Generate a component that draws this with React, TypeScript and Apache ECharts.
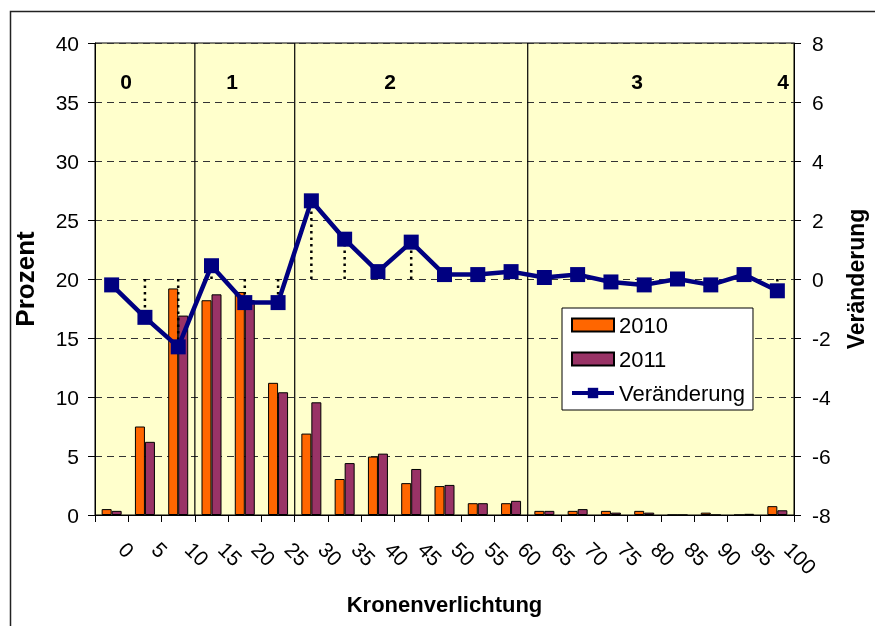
import React, { useEffect, useRef } from "react";
import * as echarts from "echarts";

// Kronenverlichtung classes (percent needle/leaf loss)
const categories = ["0", "5", "10", "15", "20", "25", "30", "35", "40", "45", "50", "55", "60", "65", "70", "75", "80", "85", "90", "95", "100"];
const share2010 = [0.5, 7.5, 19.2, 18.2, 18.9, 11.2, 6.9, 3.05, 4.95, 2.7, 2.45, 1.0, 1.0, 0.35, 0.35, 0.35, 0.35, 0, 0.2, 0, 0.75];
const share2011 = [0.35, 6.2, 16.9, 18.7, 18.2, 10.4, 9.55, 4.4, 5.2, 3.9, 2.55, 1.0, 1.2, 0.35, 0.5, 0.2, 0.2, 0, 0, 0.1, 0.4];
const change = [-0.2, -1.3, -2.3, 0.45, -0.8, -0.8, 2.65, 1.35, 0.25, 1.25, 0.15, 0.15, 0.25, 0.05, 0.15, -0.1, -0.2, 0.0, -0.2, 0.15, -0.4];
// first category index of damage classes 1, 2, 3
const classBreaks = [3, 6, 13];
const classNames = ["0", "1", "2", "3", "4"];
const leftTicks = { min: 0, max: 40, interval: 5 };
const rightTicks = { min: -8, max: 8, interval: 2 };

const FONT = "'Liberation Sans', Arial, sans-serif";

export default function App() {
  const ref = useRef<HTMLDivElement>(null);
  useEffect(() => {
    if (!ref.current) return;
    const chart = echarts.init(ref.current, undefined, { renderer: "svg" });
    const classLabelX = [126, 232, 390, 637, 783];
    const option: any = {
      animation: false,
      textStyle: { fontFamily: FONT, color: "#000" },
      grid: {
        left: 95, right: 77, top: 43, bottom: 111,
        show: true, backgroundColor: "#FFFFCC", borderColor: "#000", borderWidth: 1,
      },
      legend: {
        orient: "vertical",
        left: 562, top: 308,
        padding: [6, 8, 6, 8],
        itemGap: 12,
        itemWidth: 42, itemHeight: 13,
        backgroundColor: "#fff",
        borderColor: "#000", borderWidth: 1,
        textStyle: { fontSize: 22, color: "#000", fontFamily: FONT },
        data: [
          { name: "2010", icon: "rect" },
          { name: "2011", icon: "rect" },
          { name: "Veränderung", lineStyle: { width: 4, color: "#000080" } },
        ],
      },
      xAxis: {
        type: "category",
        data: categories,
        boundaryGap: true,
        axisLine: { lineStyle: { color: "#000", width: 1 } },
        axisTick: { show: true, interval: 0, length: 7, lineStyle: { color: "#000" } },
        axisLabel: {
          interval: 0, rotate: -45, fontSize: 21, color: "#000", fontFamily: FONT,
          margin: 20, padding: [0, 0, 0, 15],
        },
        splitLine: { show: false },
        name: "Kronenverlichtung",
        nameLocation: "middle",
        nameGap: 78,
        nameTextStyle: { fontWeight: "bold", fontSize: 22, color: "#000", fontFamily: FONT },
      },
      yAxis: [
        {
          type: "value", position: "left",
          min: leftTicks.min, max: leftTicks.max, interval: leftTicks.interval,
          axisLine: { show: true, lineStyle: { color: "#000" } },
          axisTick: { show: true, length: 7, lineStyle: { color: "#000" } },
          axisLabel: { fontSize: 21, color: "#000", margin: 16, fontFamily: FONT },
          splitLine: { show: true, lineStyle: { color: "#333", type: [7, 5], width: 1 } },
          name: "Prozent", nameLocation: "middle", nameRotate: 90, nameGap: 57,
          nameTextStyle: { fontWeight: "bold", fontSize: 26, color: "#000", fontFamily: FONT },
        },
        {
          type: "value", position: "right",
          min: rightTicks.min, max: rightTicks.max, interval: rightTicks.interval,
          axisLine: { show: true, lineStyle: { color: "#000" } },
          axisTick: { show: true, length: 7, lineStyle: { color: "#000" } },
          axisLabel: { fontSize: 21, color: "#000", margin: 18, fontFamily: FONT },
          splitLine: { show: false },
          name: "Veränderung", nameLocation: "middle", nameRotate: 90, nameGap: 50,
          nameTextStyle: { fontWeight: "bold", fontSize: 23, color: "#000", fontFamily: FONT },
        },
      ],
      series: [
        {
          name: "2010", type: "bar", data: share2010, barWidth: 10, barGap: "0%",
          itemStyle: { color: "#FF6600", borderColor: "#000", borderWidth: 1 },
          z: 2,
        },
        {
          name: "2011", type: "bar", data: share2011, barWidth: 10, barGap: "0%",
          itemStyle: { color: "#993366", borderColor: "#000", borderWidth: 1 },
          z: 2,
        },
        {
          name: "breaks", type: "custom", yAxisIndex: 0, silent: true, z: 1,
          data: classBreaks.map((b) => [b, 0]),
          encode: { x: 0, y: 1 },
          renderItem: (_p: any, api: any) => {
            const idx = api.value(0);
            const w = api.size([1, 0])[0];
            const top = api.coord([idx, leftTicks.max]);
            const bot = api.coord([idx, leftTicks.min]);
            const x = top[0] - w / 2;
            return {
              type: "line",
              shape: { x1: x, y1: top[1], x2: x, y2: bot[1] },
              style: { stroke: "#000", lineWidth: 1.2 },
            };
          },
        },
        {
          name: "drop", type: "custom", yAxisIndex: 1, silent: true, z: 3,
          data: change.map((v, i) => [i, v]),
          encode: { x: 0, y: 1 },
          renderItem: (_p: any, api: any) => {
            const i = api.value(0);
            const v = api.value(1);
            const p0 = api.coord([i, 0]);
            const p1 = api.coord([i, v]);
            return {
              type: "line",
              shape: { x1: p0[0], y1: p0[1], x2: p1[0], y2: p1[1] },
              style: { stroke: "#000", lineWidth: 2.5, lineDash: [2.5, 4] },
            };
          },
        },
        {
          name: "Veränderung", type: "line", yAxisIndex: 1, data: change,
          symbol: "rect", symbolSize: 15,
          lineStyle: { color: "#000080", width: 4.5 },
          itemStyle: { color: "#000080" },
          z: 5,
        },
      ],
      graphic: [
        {
          type: "rect", silent: true, z: 100,
          shape: { x: 10.5, y: 11.5, width: 900, height: 700 },
          style: { fill: "none", stroke: "#222", lineWidth: 1.5 },
        },
        ...classNames.map((t, k) => ({
          type: "text", z: 100,
          x: classLabelX[k], y: 81,
          style: {
            text: t, fontSize: 21, fontWeight: "bold", fontFamily: FONT, fill: "#000",
            align: "center", verticalAlign: "middle",
          },
        })),
      ],
    };
    chart.setOption(option);
    return () => chart.dispose();
  }, []);
  return <div ref={ref} style={{ position: "fixed", left: 0, top: 0, width: 875, height: 626 }} />;
}
